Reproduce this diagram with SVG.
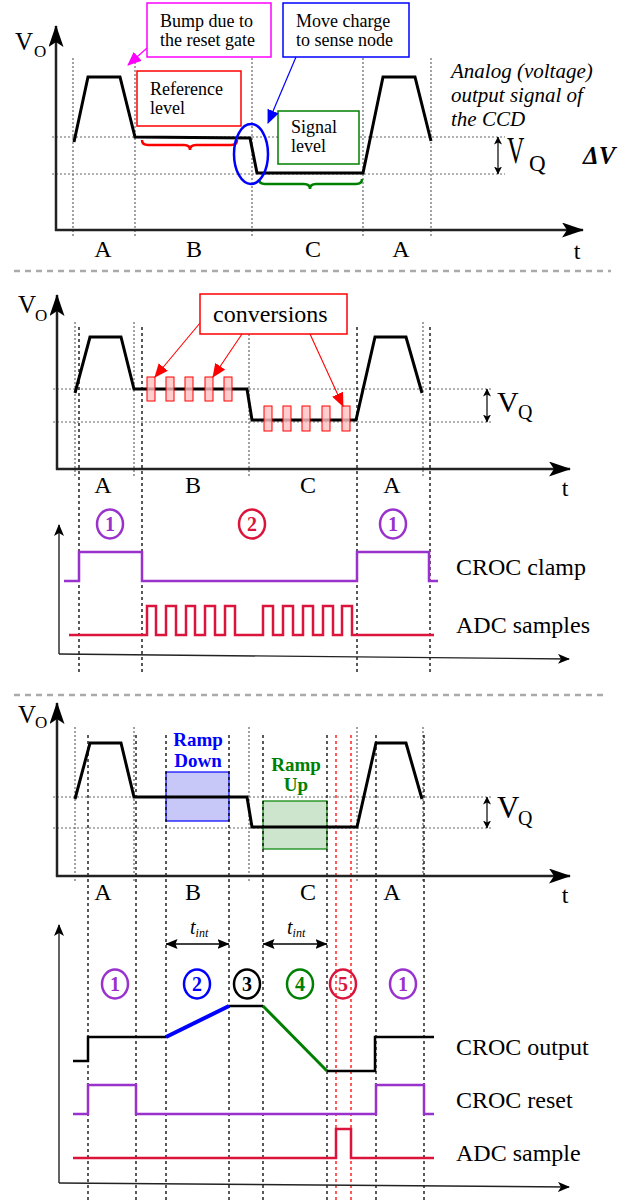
<svg xmlns="http://www.w3.org/2000/svg" width="642" height="1202" viewBox="0 0 642 1202">
<style>
text{font-family:"Liberation Serif","Times New Roman",serif;fill:#000}
.lbl{font-size:24px}
.box{font-size:18px}
.gd{stroke:#666;stroke-width:1.2;stroke-dasharray:2,2;fill:none}
.bd{stroke:#000;stroke-width:1.3;stroke-dasharray:3,3;fill:none}
.rd{stroke:#ff0000;stroke-width:1.3;stroke-dasharray:3,3;fill:none}
.sig{stroke:#000;stroke-width:3;fill:none;stroke-linejoin:miter}
.ax{stroke:#222;stroke-width:2.5;fill:none}
.tax{stroke:#222;stroke-width:1.4;fill:none}
.sep{stroke:#aaa;stroke-width:2.5;stroke-dasharray:6,5}
.pur{stroke:#9932cc;stroke-width:2.5;fill:none}
.crm{stroke:#dc143c;stroke-width:2.5;fill:none}
.conv{fill:#ffc0c0;fill-opacity:0.8;stroke:#ff0000;stroke-width:1}
.num{font-size:20px;font-weight:bold;text-anchor:middle}
.ramp{font-size:19px;font-weight:bold;text-anchor:middle}
</style>
<defs>
<marker id="big" viewBox="0 0 22 15" refX="21" refY="7.5" markerWidth="22" markerHeight="15" markerUnits="userSpaceOnUse" orient="auto"><path d="M0,0 L22,7.5 L0,15 L5,7.5 z" fill="#000"/></marker>
<marker id="sm" viewBox="0 0 12 10" refX="11" refY="5" markerWidth="12" markerHeight="10" markerUnits="userSpaceOnUse" orient="auto"><path d="M0,0 L12,5 L0,10 L3,5 z" fill="#000"/></marker>
<marker id="dbl" viewBox="0 0 8 8" refX="7.5" refY="4" markerWidth="8" markerHeight="8" markerUnits="userSpaceOnUse" orient="auto-start-reverse"><path d="M0,0 L8,4 L0,8 L2,4 z" fill="#000"/></marker>
<marker id="tint" viewBox="0 0 12 10" refX="11.5" refY="5" markerWidth="12" markerHeight="10" markerUnits="userSpaceOnUse" orient="auto-start-reverse"><path d="M0,0 L12,5 L0,10 L2,5 z" fill="#000"/></marker>
<marker id="mag" viewBox="0 0 14 12" refX="13" refY="6" markerWidth="14" markerHeight="12" markerUnits="userSpaceOnUse" orient="auto"><path d="M0,0 L14,6 L0,12 z" fill="#ff00ff"/></marker>
<marker id="blu" viewBox="0 0 14 12" refX="13" refY="6" markerWidth="14" markerHeight="12" markerUnits="userSpaceOnUse" orient="auto"><path d="M0,0 L14,6 L0,12 z" fill="#0000ff"/></marker>
<marker id="red" viewBox="0 0 14 12" refX="13" refY="6" markerWidth="14" markerHeight="12" markerUnits="userSpaceOnUse" orient="auto"><path d="M0,0 L14,6 L0,12 z" fill="#ff0000"/></marker>
</defs>

<!-- ================= PANEL 1 ================= -->
<g id="panel1">
<g id="p1-grid">
<line class="gd" x1="73" y1="58" x2="73" y2="238"/>
<line class="gd" x1="135" y1="58" x2="135" y2="238"/>
<line class="gd" x1="252" y1="58" x2="252" y2="238"/>
<line class="gd" x1="363" y1="58" x2="363" y2="238"/>
<line class="gd" x1="431" y1="58" x2="431" y2="238"/>
<line class="gd" x1="52" y1="137" x2="505" y2="137"/>
<line class="gd" x1="52" y1="174" x2="505" y2="174"/>
</g>
<g id="p1-axes">
<line class="ax" x1="56" y1="231" x2="56" y2="26" marker-end="url(#big)"/>
<line class="ax" x1="55" y1="230" x2="583" y2="230" marker-end="url(#big)"/>
<text x="15" y="50" style="font-size:25px">V</text><text x="34" y="57" style="font-size:17px">O</text>
<text class="lbl" x="103" y="257" text-anchor="middle">A</text>
<text class="lbl" x="194" y="257" text-anchor="middle">B</text>
<text class="lbl" x="313" y="257" text-anchor="middle">C</text>
<text class="lbl" x="401" y="257" text-anchor="middle">A</text>
<text class="lbl" x="577" y="259" text-anchor="middle">t</text>
</g>
<path id="p1-signal" class="sig" d="M74,142 L88,77 L120,77 L135,137 L250,138 L257,173 L363,173 L383,77 L415,77 L431,141"/>
<g id="bump-box">
<rect x="147" y="3" width="124" height="54" fill="#fff" stroke="#ff00ff" stroke-width="1.5"/>
<text class="box" x="160" y="27">Bump due to</text>
<text class="box" x="160" y="46">the reset gate</text>
</g>
<g id="move-box">
<rect x="283" y="3" width="126" height="54" fill="#fff" stroke="#0000ff" stroke-width="1.5"/>
<text class="box" x="296" y="27">Move charge</text>
<text class="box" x="296" y="46">to sense node</text>
</g>
<g id="ref-box">
<rect x="137" y="71" width="104" height="55" fill="#fff" stroke="#ff0000" stroke-width="1.5"/>
<text class="box" x="150" y="95">Reference</text>
<text class="box" x="150" y="114">level</text>
</g>
<g id="sig-box">
<rect x="278" y="111" width="81" height="53" fill="#fff" stroke="#008000" stroke-width="1.5"/>
<text class="box" x="291" y="133">Signal</text>
<text class="box" x="291" y="152">level</text>
</g>
<g id="p1-annot">
<line x1="147" y1="48" x2="128" y2="65" stroke="#ff00ff" stroke-width="1.2" marker-end="url(#mag)"/>
<line x1="296" y1="57" x2="268" y2="123" stroke="#0000ff" stroke-width="1.2" marker-end="url(#blu)"/>
<path d="M142,140 Q142,145 148,145 L184,145 Q190,145 190,150 Q190,145 196,145 L231,145 Q237,145 237,140" fill="none" stroke="#ff0000" stroke-width="2.5"/>
<path d="M259,179 Q259,184 265,184 L304,184 Q310,184 310,189 Q310,184 316,184 L356,184 Q362,184 362,179" fill="none" stroke="#008000" stroke-width="2.5"/>
<ellipse cx="251" cy="154" rx="17" ry="30" fill="none" stroke="#0000ff" stroke-width="2.5"/>
<line x1="498" y1="137" x2="498" y2="174" stroke="#000" stroke-width="1.2" marker-start="url(#dbl)" marker-end="url(#dbl)"/>
<text transform="translate(507,163) scale(0.65,1)" style="font-size:37px">V</text>
<text x="529" y="171" style="font-size:23px">Q</text>
<text x="583" y="164" style="font-size:25px;font-weight:bold;font-style:italic">ΔV</text>
<text x="451" y="78" style="font-size:21px;font-style:italic">Analog (voltage)</text>
<text x="451" y="102" style="font-size:21px;font-style:italic">output signal of</text>
<text x="451" y="126" style="font-size:21px;font-style:italic">the CCD</text>
</g>
</g>

<line class="sep" x1="14" y1="271" x2="611" y2="271"/>

<!-- ================= PANEL 2 ================= -->
<g id="panel2">
<g id="p2-grid">
<line class="gd" x1="75" y1="322" x2="75" y2="477"/>
<line class="gd" x1="134" y1="322" x2="134" y2="477"/>
<line class="gd" x1="249" y1="322" x2="249" y2="477"/>
<line class="gd" x1="423" y1="322" x2="423" y2="477"/>
<line class="gd" x1="53" y1="389" x2="493" y2="389"/>
<line class="gd" x1="53" y1="422" x2="493" y2="422"/>
<line class="bd" x1="79" y1="327" x2="79" y2="673"/>
<line class="bd" x1="142" y1="327" x2="142" y2="673"/>
<line class="bd" x1="357" y1="327" x2="357" y2="673"/>
<line class="bd" x1="430" y1="327" x2="430" y2="673"/>
</g>
<g id="p2-axes">
<line class="ax" x1="57" y1="470" x2="57" y2="295" marker-end="url(#big)"/>
<line class="ax" x1="56" y1="469" x2="570" y2="469" marker-end="url(#big)"/>
<text x="18" y="313" style="font-size:25px">V</text><text x="35" y="321" style="font-size:17px">O</text>
<text class="lbl" x="103" y="493" text-anchor="middle">A</text>
<text class="lbl" x="193" y="493" text-anchor="middle">B</text>
<text class="lbl" x="308" y="493" text-anchor="middle">C</text>
<text class="lbl" x="392" y="493" text-anchor="middle">A</text>
<text class="lbl" x="565" y="496" text-anchor="middle">t</text>
</g>
<path id="p2-signal" class="sig" d="M75,393 L90,337 L121,337 L134,389 L247,389 L252,420 L356,420 L375,337 L406,337 L422,393"/>
<g id="p2-conv">
<rect class="conv" x="147" y="377" width="8" height="24"/>
<rect class="conv" x="166" y="377" width="8" height="24"/>
<rect class="conv" x="185" y="377" width="8" height="24"/>
<rect class="conv" x="205" y="377" width="8" height="24"/>
<rect class="conv" x="224" y="377" width="8" height="24"/>
<rect class="conv" x="264" y="406" width="8" height="25"/>
<rect class="conv" x="283" y="406" width="8" height="25"/>
<rect class="conv" x="302" y="406" width="8" height="25"/>
<rect class="conv" x="322" y="406" width="8" height="25"/>
<rect class="conv" x="342" y="406" width="8" height="25"/>
</g>
<g id="conv-box">
<rect x="200" y="294" width="147" height="40" fill="#fff" stroke="#ff0000" stroke-width="1.5"/>
<text x="213" y="322" style="font-size:24px">conversions</text>
</g>
<g id="p2-arrows">
<line x1="200" y1="323" x2="155" y2="377" stroke="#ff0000" stroke-width="1.1" marker-end="url(#red)"/>
<line x1="242" y1="334" x2="213" y2="377" stroke="#ff0000" stroke-width="1.1" marker-end="url(#red)"/>
<line x1="310" y1="334" x2="343" y2="406" stroke="#ff0000" stroke-width="1.1" marker-end="url(#red)"/>
<line x1="487" y1="389" x2="487" y2="422" stroke="#000" stroke-width="1.2" marker-start="url(#dbl)" marker-end="url(#dbl)"/>
<text x="497" y="412" style="font-size:30px">V</text>
<text x="518" y="419" style="font-size:20px">Q</text>
</g>
<g id="clamp-plot">
<line class="tax" x1="59" y1="654" x2="59" y2="525" marker-end="url(#sm)"/>
<line class="tax" x1="59" y1="654" x2="569" y2="659" marker-end="url(#sm)"/>
<path class="pur" d="M64,581 L79,581 L79,552 L142,552 L142,581 L357,581 L357,552 L429,552 L429,581 L438,581"/>
<path class="crm" d="M69,635 L147,635 L147,606 L156,606 L156,635 L166,635 L166,606 L176,606 L176,635 L186,635 L186,606 L195,606 L195,635 L205,635 L205,606 L215,606 L215,635 L225,635 L225,606 L235,606 L235,635 L263,635 L263,606 L273,606 L273,635 L283,635 L283,606 L293,606 L293,635 L303,635 L303,606 L313,606 L313,635 L323,635 L323,606 L333,606 L333,635 L342,635 L342,606 L352,606 L352,635 L434,635"/>
<text class="lbl" x="456" y="575">CROC clamp</text>
<text class="lbl" x="456" y="633">ADC samples</text>
<ellipse cx="110" cy="524" rx="13" ry="14.5" fill="none" stroke="#9932cc" stroke-width="2.5"/>
<text class="num" x="110" y="531" style="fill:#9932cc">1</text>
<ellipse cx="252" cy="524" rx="13" ry="14.5" fill="none" stroke="#dc143c" stroke-width="2.5"/>
<text class="num" x="252" y="531" style="fill:#dc143c">2</text>
<ellipse cx="393" cy="524" rx="13" ry="14.5" fill="none" stroke="#9932cc" stroke-width="2.5"/>
<text class="num" x="393" y="531" style="fill:#9932cc">1</text>
</g>
</g>

<line class="sep" x1="14" y1="695" x2="608" y2="695"/>

<!-- ================= PANEL 3 ================= -->
<g id="panel3">
<g id="p3-grid">
<line class="gd" x1="75" y1="727" x2="75" y2="883"/>
<line class="gd" x1="134" y1="727" x2="134" y2="883"/>
<line class="gd" x1="249" y1="727" x2="249" y2="883"/>
<line class="gd" x1="357" y1="727" x2="357" y2="883"/>
<line class="gd" x1="423" y1="727" x2="423" y2="883"/>
<line class="gd" x1="53" y1="797" x2="493" y2="797"/>
<line class="gd" x1="53" y1="828" x2="493" y2="828"/>
</g>
<g id="ramp-down">
<rect x="166" y="772" width="63" height="49" fill="#c8c8f8" stroke="#0000ff" stroke-width="1.2"/>
<text class="ramp" x="198" y="746" style="fill:#0000ff">Ramp</text>
<text class="ramp" x="198" y="767" style="fill:#0000ff">Down</text>
</g>
<g id="ramp-up">
<rect x="263" y="801" width="64" height="48" fill="#cde5cd" stroke="#008000" stroke-width="1.2"/>
<text class="ramp" x="296" y="771" style="fill:#008000">Ramp</text>
<text class="ramp" x="296" y="791" style="fill:#008000">Up</text>
</g>
<g id="p3-dashed">
<line class="bd" x1="88" y1="735" x2="88" y2="1200"/>
<line class="bd" x1="136" y1="735" x2="136" y2="1200"/>
<line class="bd" x1="166" y1="735" x2="166" y2="1200"/>
<line class="bd" x1="229" y1="735" x2="229" y2="1200"/>
<line class="bd" x1="263" y1="735" x2="263" y2="1200"/>
<line class="bd" x1="327" y1="735" x2="327" y2="1200"/>
<line class="bd" x1="376" y1="735" x2="376" y2="1200"/>
<line class="bd" x1="424" y1="735" x2="424" y2="1200"/>
<line class="rd" x1="336" y1="735" x2="336" y2="1200"/>
<line class="rd" x1="351" y1="735" x2="351" y2="1200"/>
</g>
<g id="p3-axes">
<line class="ax" x1="57" y1="877" x2="57" y2="703" marker-end="url(#big)"/>
<line class="ax" x1="56" y1="876" x2="570" y2="876" marker-end="url(#big)"/>
<text x="18" y="723" style="font-size:25px">V</text><text x="35" y="728" style="font-size:17px">O</text>
<text class="lbl" x="103" y="900" text-anchor="middle">A</text>
<text class="lbl" x="193" y="900" text-anchor="middle">B</text>
<text class="lbl" x="308" y="900" text-anchor="middle">C</text>
<text class="lbl" x="392" y="900" text-anchor="middle">A</text>
<text class="lbl" x="565" y="903" text-anchor="middle">t</text>
</g>
<path id="p3-signal" class="sig" d="M75,799 L90,743 L121,743 L134,797 L247,797 L252,827 L357,827 L376,743 L406,743 L422,799"/>
<g id="p3-vq">
<line x1="487" y1="797" x2="487" y2="828" stroke="#000" stroke-width="1.2" marker-start="url(#dbl)" marker-end="url(#dbl)"/>
<text x="497" y="818" style="font-size:31px">V</text>
<text x="518" y="825" style="font-size:20px">Q</text>
</g>
<g id="timing-plot">
<line class="tax" x1="59" y1="1183" x2="59" y2="925" marker-end="url(#sm)"/>
<line class="tax" x1="59" y1="1183" x2="569" y2="1187" marker-end="url(#sm)"/>
<line x1="166" y1="944" x2="229" y2="944" stroke="#000" stroke-width="1.3" marker-start="url(#tint)" marker-end="url(#tint)"/>
<line x1="263" y1="944" x2="327" y2="944" stroke="#000" stroke-width="1.3" marker-start="url(#tint)" marker-end="url(#tint)"/>
<text x="190" y="934" style="font-size:20px;font-style:italic">t<tspan style="font-size:12px" dy="3">int</tspan></text>
<text x="287" y="934" style="font-size:20px;font-style:italic">t<tspan style="font-size:12px" dy="3">int</tspan></text>
<path d="M73,1061 L88,1061 L88,1037 L166,1037" fill="none" stroke="#000" stroke-width="2.5"/>
<path d="M166,1037 L229,1006" fill="none" stroke="#0000ff" stroke-width="4"/>
<path d="M229,1006 L263,1006" fill="none" stroke="#000" stroke-width="2.5"/>
<path d="M263,1006 L327,1071" fill="none" stroke="#008000" stroke-width="3"/>
<path d="M327,1071 L375,1071 L375,1037 L434,1037" fill="none" stroke="#000" stroke-width="2.5"/>
<path class="pur" d="M73,1114 L88,1114 L88,1085 L136,1085 L136,1114 L376,1114 L376,1085 L424,1085 L424,1114 L434,1114"/>
<path class="crm" d="M73,1158 L336,1158 L336,1129 L351,1129 L351,1158 L434,1158"/>
<text class="lbl" x="456" y="1055">CROC output</text>
<text class="lbl" x="456" y="1108">CROC reset</text>
<text class="lbl" x="456" y="1161">ADC sample</text>
<ellipse cx="115" cy="984" rx="13" ry="14.5" fill="none" stroke="#9932cc" stroke-width="2.5"/>
<text class="num" x="115" y="991" style="fill:#9932cc">1</text>
<ellipse cx="197" cy="984" rx="13" ry="14.5" fill="none" stroke="#0000ff" stroke-width="2.5"/>
<text class="num" x="197" y="991" style="fill:#0000ff">2</text>
<ellipse cx="247" cy="984" rx="13" ry="14.5" fill="none" stroke="#000" stroke-width="2.5"/>
<text class="num" x="247" y="991" style="fill:#000">3</text>
<ellipse cx="300" cy="984" rx="13" ry="14.5" fill="none" stroke="#008000" stroke-width="2.5"/>
<text class="num" x="300" y="991" style="fill:#008000">4</text>
<ellipse cx="343" cy="984" rx="13" ry="14.5" fill="none" stroke="#dc143c" stroke-width="2.5"/>
<text class="num" x="343" y="991" style="fill:#dc143c">5</text>
<ellipse cx="403" cy="984" rx="13" ry="14.5" fill="none" stroke="#9932cc" stroke-width="2.5"/>
<text class="num" x="403" y="991" style="fill:#9932cc">1</text>
</g>
</g>
</svg>
